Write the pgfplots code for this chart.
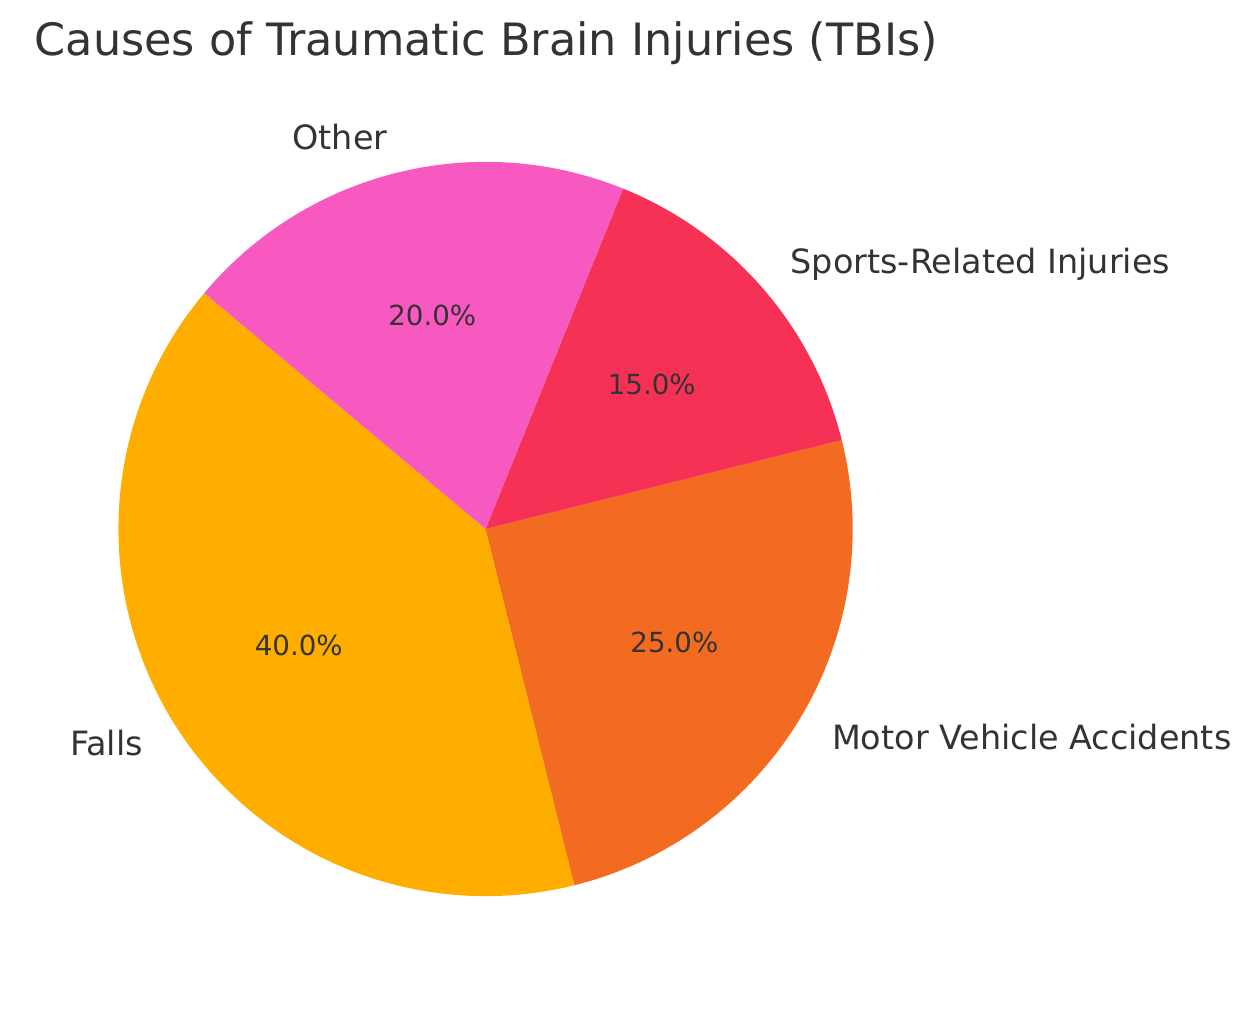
\documentclass[border=0pt]{standalone}
\usepackage{pgfplots}
\usepackage{pgfplotstable}
\pgfplotsset{compat=1.18}
\usepackage{fontspec}
\setmainfont{DejaVu Sans}
\definecolor{txt}{HTML}{333333}
\definecolor{pie0}{HTML}{FFAE00}
\definecolor{pie1}{HTML}{F26B21}
\definecolor{pie2}{HTML}{F53255}
\definecolor{pie3}{HTML}{F859C0}

\pgfplotstableread[col sep=comma]{
label,value
Falls,40
Motor Vehicle Accidents,25
Sports-Related Injuries,15
Other,20
}\piedata

\begin{document}
% cumulative angles (start angle 140, counter-clockwise)
\xdef\cumul{140}
\foreach \i in {0,...,3}{%
  \pgfplotstablegetelem{\i}{value}\of\piedata
  \xdef\curval{\pgfplotsretval}%
  \pgfmathsetmacro\a{\cumul}%
  \pgfmathsetmacro\b{\cumul+3.6*\curval}%
  \pgfmathsetmacro\m{(\a+\b)/2}%
  \expandafter\xdef\csname pieA\i\endcsname{\a}%
  \expandafter\xdef\csname pieB\i\endcsname{\b}%
  \expandafter\xdef\csname pieM\i\endcsname{\m}%
  \expandafter\xdef\csname pieV\i\endcsname{\curval}%
  \pgfplotstablegetelem{\i}{label}\of\piedata
  \expandafter\xdef\csname pieL\i\endcsname{\pgfplotsretval}%
  \xdef\cumul{\b}%
}%
\begin{tikzpicture}
\begin{axis}[
  width=624pt, height=507pt, scale only axis,
  xmin=0, xmax=1248, ymin=0, ymax=1014,
  hide axis, clip=false,
]
\def\cx{481.7}\def\cy{482.3}\def\R{369}
\pgfplotsinvokeforeach{0,...,3}{%
  \fill[pie#1] (axis cs:\cx,\cy) -- ++(\csname pieA#1\endcsname:184.5pt)
     arc[start angle=\csname pieA#1\endcsname, end angle=\csname pieB#1\endcsname, radius=184.5pt] -- cycle;
}
\pgfplotsinvokeforeach{0,...,3}{%
  \pgfmathsetmacro\cm{cos(\csname pieM#1\endcsname)}%
  \pgfmathsetmacro\sm{sin(\csname pieM#1\endcsname)}%
  \pgfmathsetmacro\lx{\cx+1.1*\R*\cm}%
  \pgfmathsetmacro\ly{\cy+1.1*\R*\sm}%
  \pgfmathsetmacro\px{\cx+0.6*\R*\cm}%
  \pgfmathsetmacro\py{\cy+0.6*\R*\sm}%
  \pgfmathsetmacro\anc{\cm<0 ? "east" : "west"}%
  \edef\temp{\noexpand\node[anchor=\anc, inner sep=0pt, text=txt, font=\noexpand\fontsize{16.8}{19}\noexpand\selectfont] at (axis cs:\lx,\ly) {\csname pieL#1\endcsname};
    \noexpand\node[anchor=center, inner sep=0pt, text=txt, font=\noexpand\fontsize{13.9}{16}\noexpand\selectfont] at (axis cs:\px,\py) {\noexpand\pgfmathprintnumber[fixed, fixed zerofill, precision=1, assume math mode=true]{\csname pieV#1\endcsname}\noexpand\%};}%
  \temp
}
\node[anchor=base west, inner sep=0pt, text=txt, font=\fontsize{22.4}{27}\selectfont] at (axis cs:28,958) {Causes of Traumatic Brain Injuries (TBIs)};
\end{axis}
\pgfresetboundingbox
\useasboundingbox (0,0) rectangle (624pt,507pt);
\end{tikzpicture}
\end{document}
